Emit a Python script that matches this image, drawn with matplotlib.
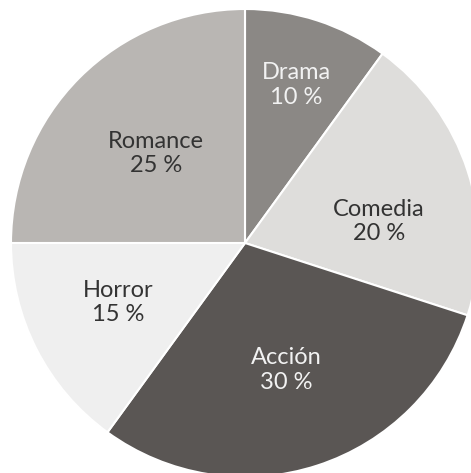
import matplotlib
matplotlib.use('Agg')
import matplotlib.pyplot as plt
import numpy as np

genres = ['Drama', 'Comedia', 'Acción', 'Horror', 'Romance']
shares = [10, 20, 30, 15, 25]
colours = ['#8b8885', '#dedddb', '#5a5654', '#efefef', '#b9b6b3']
text_colours = ['#f2f2f2', '#333333', '#f2f2f2', '#333333', '#333333']
# label distance (fraction of radius) and angular nudge (degrees) per slice
label_dist = [0.71, 0.58, 0.57, 0.60, 0.54]
label_nudge = [0, -9, 0, -2, 0]

W, H = 471, 473
fig = plt.figure(figsize=(W / 100, H / 100), dpi=100)
cx, cy, r = 245, 243, 234
ax = fig.add_axes([(cx - r) / W, (H - cy - r) / H, 2 * r / W, 2 * r / H])

wedges, _ = ax.pie(shares, colors=colours, startangle=90, counterclock=False,
                   wedgeprops=dict(edgecolor='white', linewidth=1.5))
ax.set_xlim(-1, 1)
ax.set_ylim(-1, 1)
ax.set_aspect('equal')
ax.axis('off')

for w, name, pct, tc, d, nudge in zip(wedges, genres, shares, text_colours, label_dist, label_nudge):
    ang = np.deg2rad((w.theta1 + w.theta2) / 2 + nudge)
    ax.text(d * np.cos(ang), d * np.sin(ang), f'{name}\n{pct} %', ha='center', va='center',
            color=tc, fontsize=17, family='Lato', linespacing=1.2)

plt.savefig('out.png', dpi=100)
